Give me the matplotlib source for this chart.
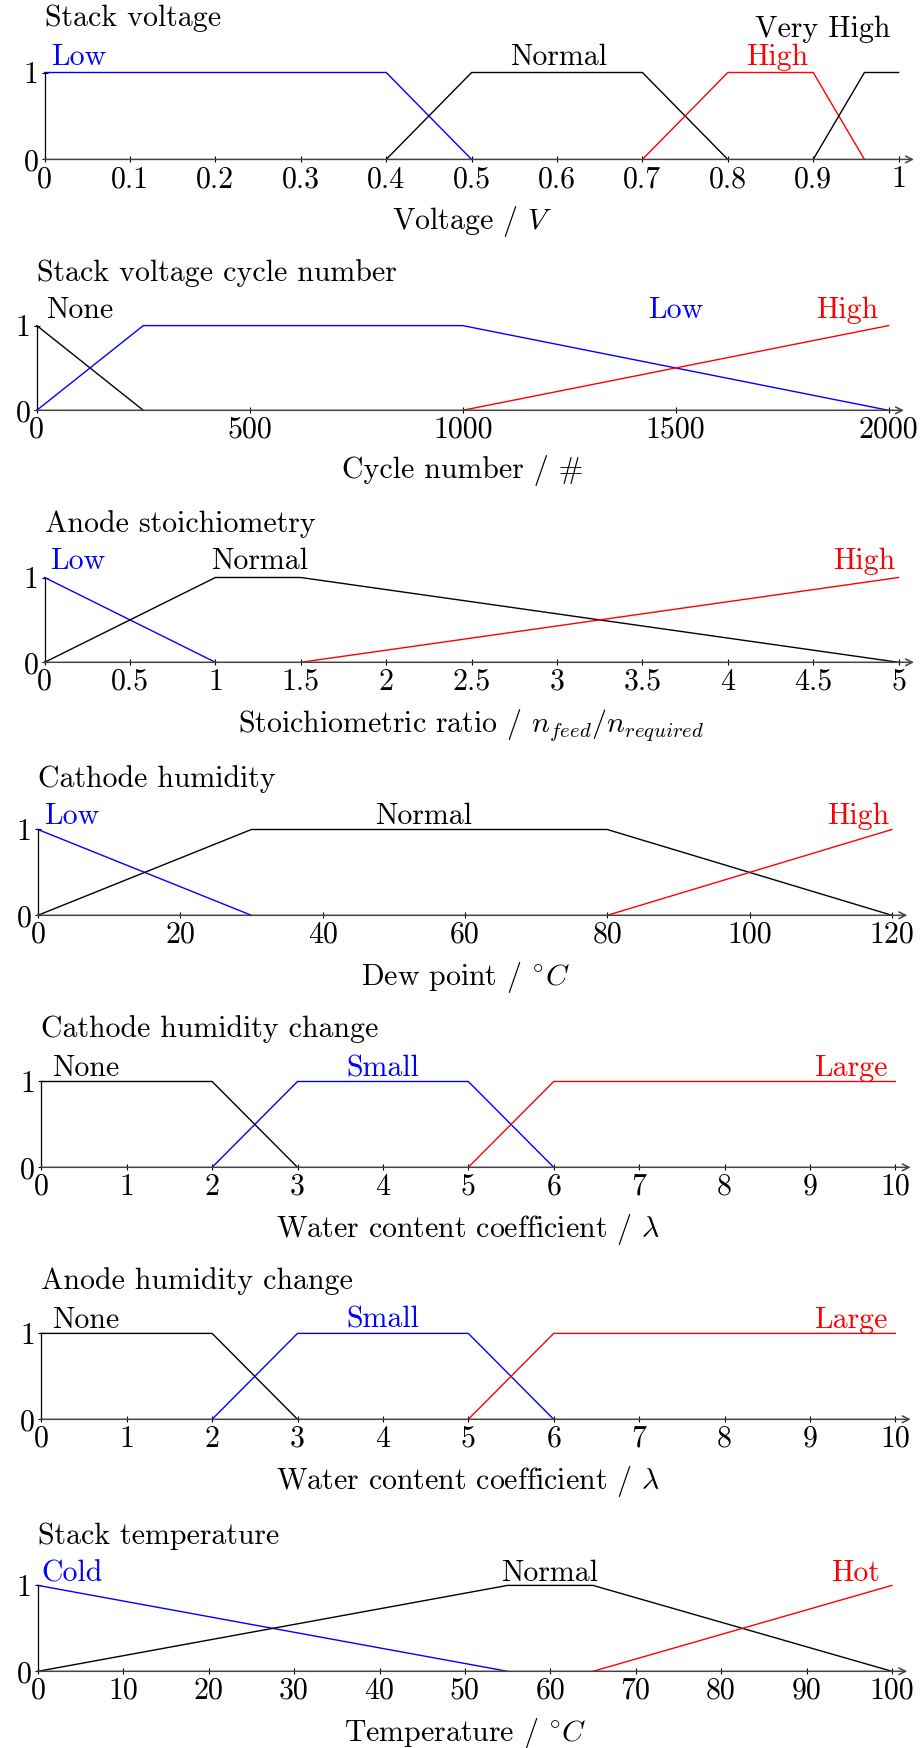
import matplotlib
matplotlib.use("Agg")
import matplotlib.pyplot as plt

plt.rcParams['font.family'] = ['cmr10', 'DejaVu Serif']
plt.rcParams['mathtext.fontset'] = 'cm'
plt.rcParams['axes.formatter.use_mathtext'] = True
plt.rcParams['axes.unicode_minus'] = False

FS = 21.5
FS_TICK = 21.5

# ---------- data ----------
titles = ["Stack voltage", "Stack voltage cycle number", "Anode stoichiometry",
          "Cathode humidity", "Cathode humidity change", "Anode humidity change",
          "Stack temperature"]
xlabels = ["Voltage / $V$", "Cycle number / #",
           "Stoichiometric ratio / $n_{feed}/n_{required}$",
           "Dew point / $^{\\circ}C$", "Water content coefficient / $\\lambda$",
           "Water content coefficient / $\\lambda$", "Temperature / $^{\\circ}C$"]
xmaxs = [1, 2000, 5, 120, 10, 10, 100]
xticks = [
    [0, 0.1, 0.2, 0.3, 0.4, 0.5, 0.6, 0.7, 0.8, 0.9, 1],
    [0, 500, 1000, 1500, 2000],
    [0, 0.5, 1, 1.5, 2, 2.5, 3, 3.5, 4, 4.5, 5],
    [0, 20, 40, 60, 80, 100, 120],
    [0, 1, 2, 3, 4, 5, 6, 7, 8, 9, 10],
    [0, 1, 2, 3, 4, 5, 6, 7, 8, 9, 10],
    [0, 10, 20, 30, 40, 50, 60, 70, 80, 90, 100],
]
xticklabels = [
    ["0", "0.1", "0.2", "0.3", "0.4", "0.5", "0.6", "0.7", "0.8", "0.9", "1"],
    ["0", "500", "1000", "1500", "2000"],
    ["0", "0.5", "1", "1.5", "2", "2.5", "3", "3.5", "4", "4.5", "5"],
    ["0", "20", "40", "60", "80", "100", "120"],
    ["0", "1", "2", "3", "4", "5", "6", "7", "8", "9", "10"],
    ["0", "1", "2", "3", "4", "5", "6", "7", "8", "9", "10"],
    ["0", "10", "20", "30", "40", "50", "60", "70", "80", "90", "100"],
]

# membership functions: (name, color, xs, ys, label_x, label_y)
voltage_sets = [
    ("Low", "blue", [0, 0.4, 0.5], [1, 1, 0], 0.04, 1.09),
    ("Normal", "black", [0.4, 0.5, 0.7, 0.8], [0, 1, 1, 0], 0.602, 1.09),
    ("High", "red", [0.7, 0.8, 0.9, 0.96], [0, 1, 1, 0], 0.858, 1.09),
    ("Very High", "black", [0.9, 0.96, 1.0], [0, 1, 1], 0.911, 1.41),
]
cycle_sets = [
    ("None", "black", [0, 250], [1, 0], 100, 1.095),
    ("Low", "blue", [0, 250, 1000, 2000], [0, 1, 1, 0], 1500, 1.095),
    ("High", "red", [1000, 2000], [0, 1], 1903, 1.095),
]
anode_stoich_sets = [
    ("Low", "blue", [0, 1], [1, 0], 0.196, 1.095),
    ("Normal", "black", [0, 1, 1.5, 5], [0, 1, 1, 0], 1.26, 1.095),
    ("High", "red", [1.5, 5], [0, 1], 4.8, 1.095),
]
cathode_hum_sets = [
    ("Low", "blue", [0, 30], [1, 0], 4.7, 1.065),
    ("Normal", "black", [0, 30, 80, 120], [0, 1, 1, 0], 54.2, 1.065),
    ("High", "red", [80, 120], [0, 1], 115.3, 1.065),
]
cathode_change_sets = [
    ("None", "black", [0, 2, 3], [1, 1, 0], 0.52, 1.06),
    ("Small", "blue", [2, 3, 5, 6], [0, 1, 1, 0], 4.0, 1.06),
    ("Large", "red", [5, 6, 10], [0, 1, 1], 9.48, 1.06),
]
anode_change_sets = [
    ("None", "black", [0, 2, 3], [1, 1, 0], 0.52, 1.065),
    ("Small", "blue", [2, 3, 5, 6], [0, 1, 1, 0], 4.0, 1.065),
    ("Large", "red", [5, 6, 10], [0, 1, 1], 9.48, 1.065),
]
temperature_sets = [
    ("Cold", "blue", [0, 55], [1, 0], 4.0, 1.05),
    ("Normal", "black", [0, 55, 65, 100], [0, 1, 1, 0], 59.9, 1.05),
    ("Hot", "red", [65, 100], [0, 1], 95.8, 1.05),
]
all_sets = [voltage_sets, cycle_sets, anode_stoich_sets, cathode_hum_sets,
            cathode_change_sets, anode_change_sets, temperature_sets]

# ---------- layout (pixels) ----------
W, H = 922, 1748
boxes = [  # left, right, top(y=1), bottom(y=0)
    (44.6, 898.6, 72.5, 159.4),
    (36.8, 888.6, 325.6, 410.3),
    (44.6, 898.6, 577.5, 662.3),
    (37.9, 891.9, 829.5, 915.3),
    (41.3, 895.3, 1081.5, 1167.3),
    (41.3, 895.3, 1333.4, 1419.3),
    (37.9, 891.9, 1585.4, 1671.3),
]
title_y = [1.53, 1.525, 1.54, 1.50, 1.516, 1.516, 1.48]

fig = plt.figure(figsize=(W / 100, H / 100), dpi=100)

for i in range(7):
    l, r, t, b = boxes[i]
    ax = fig.add_axes([l / W, 1 - b / H, (r - l) / W, (b - t) / H])
    ax.set_xlim(0, xmaxs[i])
    ax.set_ylim(0, 1)
    for name, col, xs, ys, lx, ly in all_sets[i]:
        ax.plot(xs, ys, color=col, lw=1.0, clip_on=False, solid_joinstyle='miter')
        ax.text(lx, ly, name, color=col, fontsize=FS, ha='center', va='baseline',
                transform=ax.transData, clip_on=False)
    ax.text(0, title_y[i], titles[i], fontsize=FS, ha='left', va='baseline',
            transform=ax.transData)
    for s in ['top', 'right', 'bottom']:
        ax.spines[s].set_visible(False)
    ax.spines['left'].set_linewidth(0.9)
    ax.annotate('', xy=(1.018, 0), xytext=(0, 0), xycoords='axes fraction',
                arrowprops=dict(arrowstyle='->', lw=1.1, color='#444444',
                                shrinkA=0, shrinkB=0, mutation_scale=12))
    ax.set_xticks(xticks[i])
    ax.set_xticklabels(xticklabels[i], fontsize=FS_TICK)
    ax.set_yticks([0, 1])
    ax.set_yticklabels(["0", "1"], fontsize=FS_TICK)
    ax.tick_params(axis='both', direction='inout', length=5, width=0.8, pad=2)
    ax.set_xlabel(xlabels[i], fontsize=FS, labelpad=8)
    ax.patch.set_visible(False)

fig.savefig("out.png", dpi=100)
